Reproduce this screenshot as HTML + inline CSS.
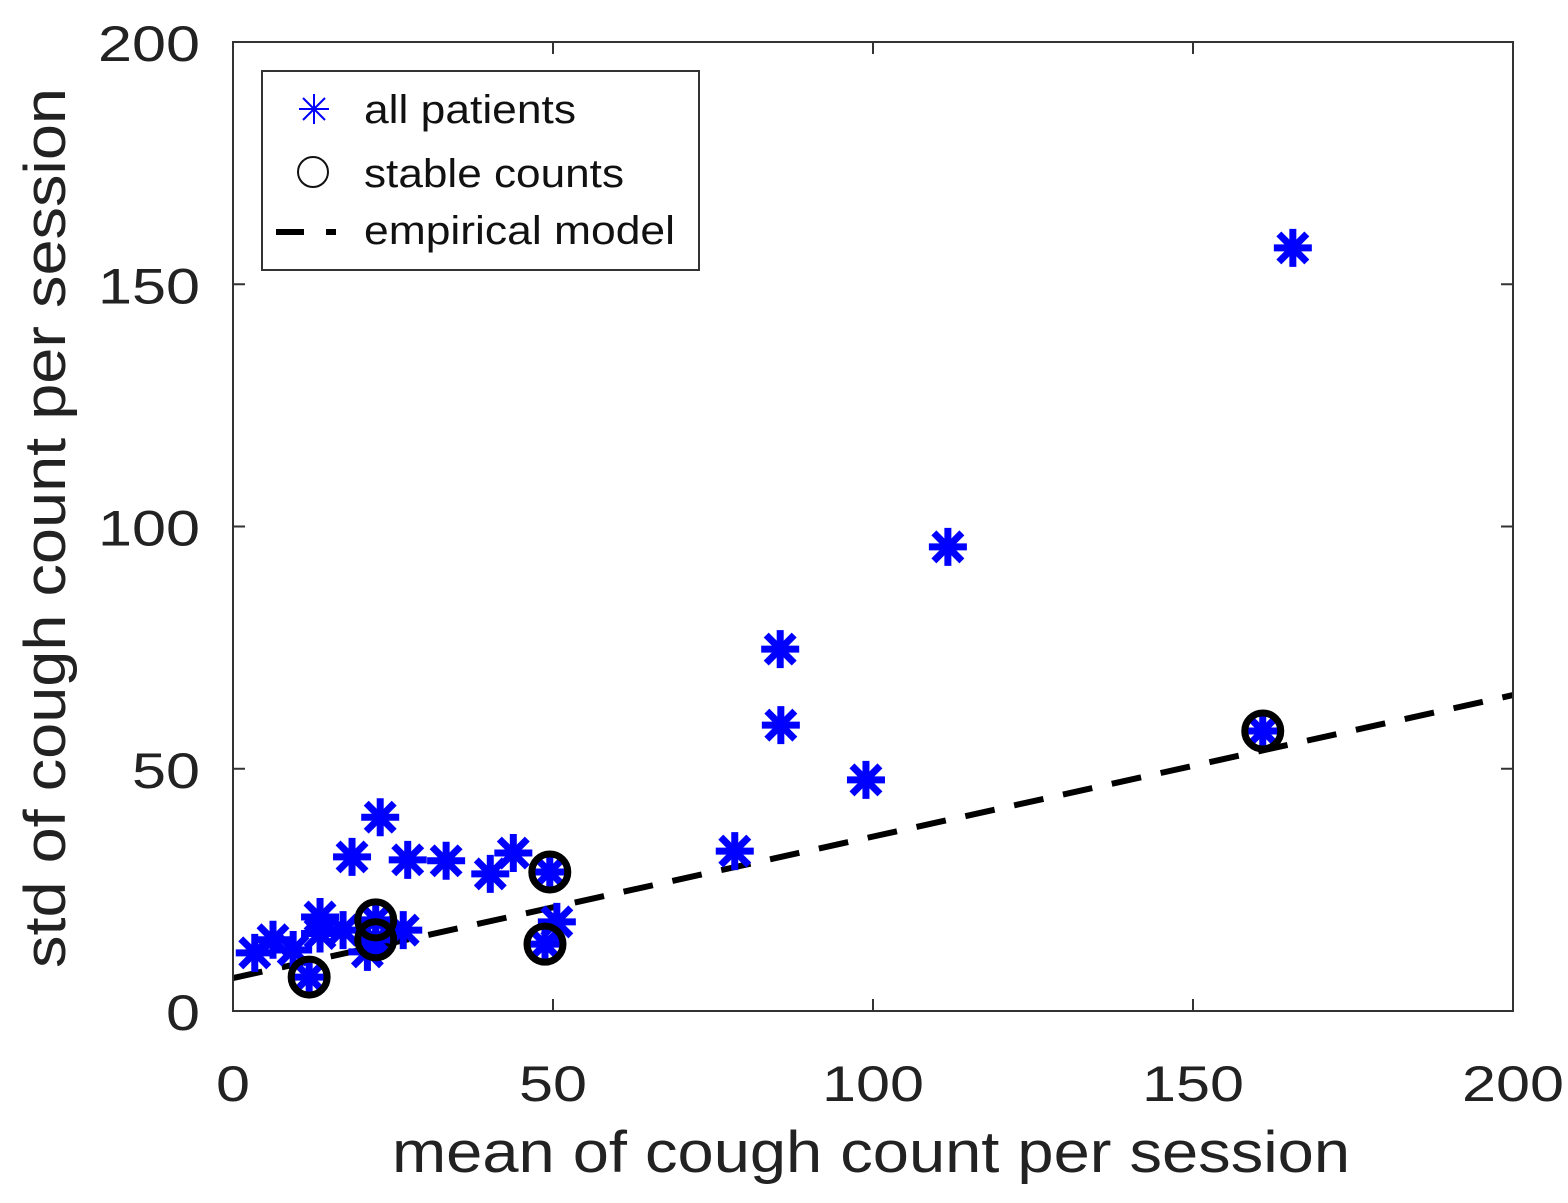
<!DOCTYPE html>
<html><head><meta charset="utf-8"><style>
body{margin:0;background:#fff;}
svg{display:block;font-family:"Liberation Sans",sans-serif;}
</style></head><body>
<svg id="chart" width="1568" height="1203" viewBox="0 0 1568 1203">
<rect x="0" y="0" width="1568" height="1203" fill="#fff"/>
<g id="plot"></g>
<rect x="233" y="42" width="1280" height="969" fill="none" stroke="#333" stroke-width="2"/>
<g id="ticks"></g>
<text x="392" y="1172" font-size="58" textLength="958" lengthAdjust="spacingAndGlyphs" fill="#222">mean of cough count per session</text>
<text x="0" y="0" font-size="58" textLength="880" lengthAdjust="spacingAndGlyphs" fill="#222" transform="translate(65,968) rotate(-90)">std of cough count per session</text>
<g>
<rect x="262" y="71" width="437" height="199" fill="#fff" stroke="#333" stroke-width="2"/>
<g>
<g stroke="#00f" stroke-width="2"><line x1="314" y1="94" x2="314" y2="124"/><line x1="299" y1="109" x2="329" y2="109"/><line x1="303" y1="98" x2="325" y2="120"/><line x1="303" y1="120" x2="325" y2="98"/></g>
<text x="364" y="123" font-size="40" textLength="212" lengthAdjust="spacingAndGlyphs" fill="#111">all patients</text></g>
<g>
<circle cx="313" cy="172" r="15" fill="none" stroke="#111" stroke-width="2"/>
<text x="364" y="187" font-size="40" textLength="260" lengthAdjust="spacingAndGlyphs" fill="#111">stable counts</text></g>
<g>
<line x1="276" y1="232" x2="350" y2="232" stroke="#000" stroke-width="6" stroke-dasharray="28,22,10,100"/>
<text x="364" y="244" font-size="40" textLength="311" lengthAdjust="spacingAndGlyphs" fill="#111">empirical model</text></g>
</g>
</svg>
<script>
const xTicks=[0,50,100,150,200];
const yTicks=[0,50,100,150,200];
const allX=[165.6,111.7,85.5,85.6,98.9,78.4,160.9,49.5,48.75,50.6,23,18.6,27.3,33.3,40.2,43.8,6.25,3.4,13.6,17.2,9.4,21,26.6,11.9,22.3,22.3,13.6];
const allY=[157.5,95.8,74.7,59,47.7,33,57.8,28.7,13.8,18.4,40,31.8,31.2,31,28.3,32.6,14.7,12,19.4,16.7,12.6,12.2,16.7,7.0,18.8,14.7,16];
const stableX=[11.9,22.3,22.3,49.5,48.75,160.9];
const stableY=[7.0,18.8,14.7,28.7,13.8,57.8];
const modelSlope=[0.292];
const modelIntercept=[6.8];
const NS="http://www.w3.org/2000/svg";
const sx=v=>233+v*6.4, sy=v=>1011-v*4.845;
const plot=document.getElementById('plot'), ticks=document.getElementById('ticks');
function mk(t,a,p){const e=document.createElementNS(NS,t);for(const k in a)e.setAttribute(k,a[k]);p.appendChild(e);return e;}
const ml=mk('line',{x1:sx(0),y1:sy(modelIntercept[0]),x2:sx(200),y2:sy(modelIntercept[0]+modelSlope[0]*200),stroke:'#000','stroke-width':6,'stroke-dasharray':'30,20'},plot);


allX.forEach((x,i)=>{
 const g=mk('g',{stroke:'#00f','stroke-width':7,transform:`translate(${sx(x)},${sy(allY[i])})`},plot);
 
 
 mk('line',{x1:0,y1:-19,x2:0,y2:19},g);mk('line',{x1:-19,y1:0,x2:19,y2:0},g);
 mk('line',{x1:-14,y1:-14,x2:14,y2:14},g);mk('line',{x1:-14,y1:14,x2:14,y2:-14},g);
});
stableX.forEach((x,i)=>{
 const c=mk('circle',{cx:sx(x),cy:sy(stableY[i]),r:18,fill:'none',stroke:'#000','stroke-width':7},plot);
 
 
});
xTicks.forEach(v=>{
 mk('line',{x1:sx(v),y1:1011,x2:sx(v),y2:999,stroke:'#333','stroke-width':2},ticks);
 mk('line',{x1:sx(v),y1:42,x2:sx(v),y2:54,stroke:'#333','stroke-width':2},ticks);
 const t=mk('text',{x:sx(v),y:1101,'font-size':50,'text-anchor':'middle',fill:'#222',textLength:String(v).length*34,lengthAdjust:'spacingAndGlyphs'},ticks);t.textContent=v;
 
 
});
yTicks.forEach(v=>{
 mk('line',{x1:233,y1:sy(v),x2:245,y2:sy(v),stroke:'#333','stroke-width':2},ticks);
 mk('line',{x1:1513,y1:sy(v),x2:1501,y2:sy(v),stroke:'#333','stroke-width':2},ticks);
 const t=mk('text',{x:200,y:sy(v)+19,'font-size':50,'text-anchor':'end',fill:'#222',textLength:String(v).length*34,lengthAdjust:'spacingAndGlyphs'},ticks);t.textContent=v;
 
 
});
</script>
</body></html>
